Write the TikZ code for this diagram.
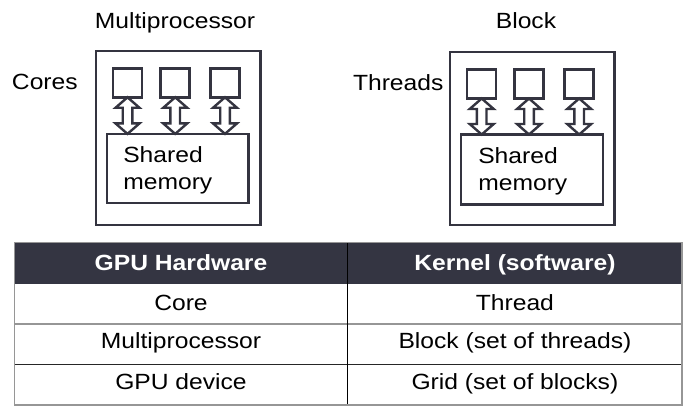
\documentclass[tikz,border=0pt]{standalone}
\usepackage{fontspec}
\setmainfont{Liberation Sans}[FakeStretch=1.12]
\usetikzlibrary{calc}
\definecolor{ink}{RGB}{52,52,64}
\definecolor{hdr}{RGB}{52,53,66}
\definecolor{rulegray}{RGB}{150,150,150}
\newcommand\dblarr[2]{%
  \draw[dblstyle] let \p1=(#1), \p2=(#2) in
    (\x1,\y1) -- (\x1+12pt,\y1-10.5pt) -- (\x1+4.8pt,\y1-10.5pt) --
    (\x1+4.8pt,\y2+10.5pt) -- (\x1+12pt,\y2+10.5pt) -- (\x1,\y2) --
    (\x1-12pt,\y2+10.5pt) -- (\x1-4.8pt,\y2+10.5pt) --
    (\x1-4.8pt,\y1-10.5pt) -- (\x1-12pt,\y1-10.5pt) -- cycle;}
\begin{document}
\begin{tikzpicture}[x=1pt,y=-1pt,
  every node/.style={inner sep=0pt, outer sep=0pt},
  txt/.style={font=\fontsize{22pt}{27pt}\selectfont, text=black},
  htxt/.style={font=\fontsize{22pt}{27pt}\selectfont\bfseries, text=white},
  unitbox/.style={draw=ink, line width=2.5pt},
  cellbox/.style={draw=ink, line width=2.5pt, minimum size=29pt},
  dblstyle/.style={draw=ink, line width=2.4pt, fill=white, line join=miter},
]
\useasboundingbox (0,0) rectangle (683,406);

% ---- Multiprocessor
\node[txt, anchor=base] (mptitle) at (175,29) {Multiprocessor};
\node[txt, anchor=base west] (cores) at (12,89.5) {Cores};
\node[unitbox, minimum width=164.3pt, minimum height=173.6pt] (mp) at (178.35,138) {};
\node[cellbox] (c1) at (127.5,82.8) {};
\node[cellbox] (c2) at (175.2,82.8) {};
\node[cellbox] (c3) at (225,82.8) {};
\node[unitbox, minimum width=141.1pt, minimum height=68.9pt] (mem1) at (177.75,168.35) {};
\node[txt, anchor=base west] (mem1a) at (123.3,162.7) {Shared};
\node[txt, anchor=base west] (mem1b) at (123.3,189.7) {memory};
\dblarr{c1.south}{c1.south |- mem1.north}
\dblarr{c2.south}{c2.south |- mem1.north}
\dblarr{c3.south}{c3.south |- mem1.north}

% ---- Block
\node[txt, anchor=base] (bltitle) at (526,29) {Block};
\node[txt, anchor=base west] (threads) at (353,90.5) {Threads};
\node[unitbox, minimum width=164.3pt, minimum height=172.6pt] (bl) at (532.35,138.5) {};
\node[cellbox] (t1) at (481.7,84) {};
\node[cellbox] (t2) at (529,84) {};
\node[cellbox] (t3) at (579.2,84) {};
\node[unitbox, minimum width=141.9pt, minimum height=70pt] (mem2) at (532.15,169.5) {};
\node[txt, anchor=base west] (mem2a) at (478.3,163.5) {Shared};
\node[txt, anchor=base west] (mem2b) at (478.3,190.5) {memory};
\dblarr{t1.south}{t1.south |- mem2.north}
\dblarr{t2.south}{t2.south |- mem2.north}
\dblarr{t3.south}{t3.south |- mem2.north}

% ---- Table
\fill[hdr] (14.3,242.3) rectangle (682,284);
\draw[rulegray, line width=1.5pt] (14.3,324) -- (682,324);
\draw[black!85, line width=1pt] (14.3,364.3) -- (682,364.3);
\draw[black, line width=1.2pt] (347.7,242.3) -- (347.7,405);
\draw[rulegray, line width=1.3pt] (14.3,242.3) rectangle (682,405);

\node[htxt, anchor=base] (h1) at (181,270.7) {GPU Hardware};
\node[htxt, anchor=base] (h2) at (514.9,270.7) {Kernel (software)};
\node[txt, anchor=base] (r1a) at (181,310.5) {Core};
\node[txt, anchor=base] (r1b) at (514.9,310.5) {Thread};
\node[txt, anchor=base] (r2a) at (181,348.5) {Multiprocessor};
\node[txt, anchor=base] (r2b) at (514.9,348.5) {Block (set of threads)};
\node[txt, anchor=base] (r3a) at (181,389) {GPU device};
\node[txt, anchor=base] (r3b) at (514.9,389) {Grid (set of blocks)};
\end{tikzpicture}
\end{document}
